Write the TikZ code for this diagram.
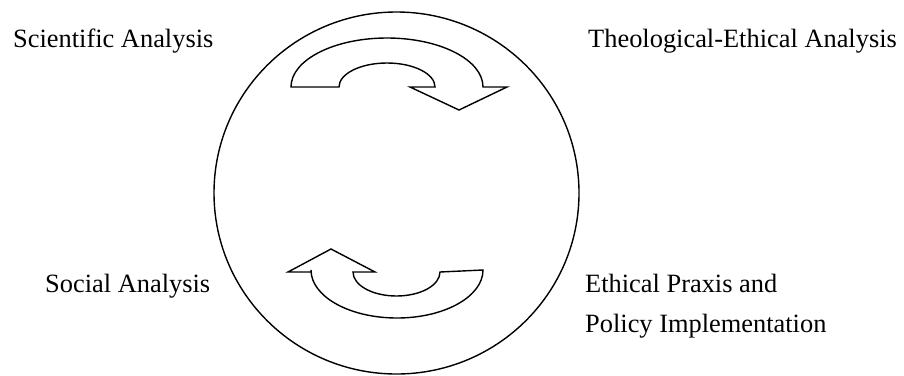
\documentclass[tikz,border=0pt]{standalone}
\usepackage{fontspec}
\setmainfont{Liberation Serif}
\usepackage{tikz}
\usetikzlibrary{positioning}

\begin{document}
\begin{tikzpicture}[
    x=1pt, y=-1pt,
    stage/.style={
      anchor=base west, inner sep=0pt, text=black,
      font=\fontsize{26.4}{30}\selectfont
    },
    turn/.style={draw=black, line width=1.4pt, line join=miter, fill=white},
  ]
  \useasboundingbox (0,0) rectangle (904,375);

  % the big circle
  \draw[line width=1.4pt] (396.5,193) ellipse [x radius=182.5, y radius=181];

  % upper turning arrow
  \draw[turn] (291,87) arc[start angle=180, end angle=360, x radius=96, y radius=49]
    -- (507,87) -- (459,110) -- (410,87) -- (435,87)
    arc[start angle=0, end angle=-180, x radius=48, y radius=24] -- cycle;

  % lower turning arrow
  \draw[turn] (311,272) -- (288,272) -- (331,249) -- (375,272) -- (353,272)
    arc[start angle=180, end angle=0, x radius=43.5, y radius=24]
    -- (483,270)
    arc[start angle=0, end angle=180, x radius=86, y radius=48] -- cycle;

  \node[stage] (scientific) at (13,47) {Scientific Analysis};
  \node[stage] (theological) at (588,47) {Theological-Ethical Analysis};
  \node[stage] (social) at (45,292) {Social Analysis};
  \node[stage] (ethical) at (585,292) {Ethical Praxis and};
  \node[stage] (policy) at (585,332) {Policy Implementation};
\end{tikzpicture}
\end{document}
